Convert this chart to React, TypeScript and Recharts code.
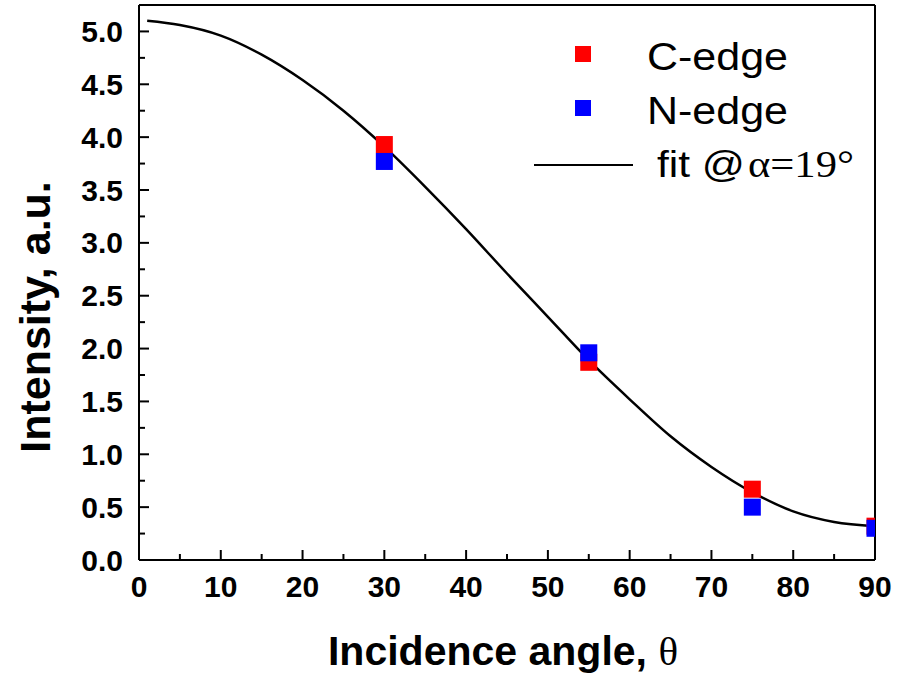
import {
  ComposedChart,
  Scatter,
  Line,
  XAxis,
  YAxis,
  ReferenceLine,
  Label,
} from "recharts";

// valores
const anglesMeas = [30, 55, 75, 90];
const cEdge = [3.93, 1.87, 0.67, 0.32];
const nEdge = [3.77, 1.96, 0.5, 0.3];

const fitAngle = [1, 5, 10, 15, 20, 25, 30, 35, 40, 45, 50, 55, 60, 65, 70, 75, 80, 85, 90];
const fitIntensity = [
  5.1, 5.06, 4.96, 4.78, 4.54, 4.25, 3.91, 3.53, 3.13, 2.71, 2.3, 1.89, 1.52, 1.17, 0.88,
  0.64, 0.46, 0.36, 0.32,
];

const xTicks = [0, 5, 10, 15, 20, 25, 30, 35, 40, 45, 50, 55, 60, 65, 70, 75, 80, 85, 90];
const yTicks = [
  0, 0.25, 0.5, 0.75, 1, 1.25, 1.5, 1.75, 2, 2.25, 2.5, 2.75, 3, 3.25, 3.5, 3.75, 4, 4.25, 4.5,
  4.75, 5,
];

const cData = anglesMeas.map((x, i) => ({ x, y: cEdge[i] }));
const nData = anglesMeas.map((x, i) => ({ x, y: nEdge[i] }));
const fitData = fitAngle.map((x, i) => ({ x, y: fitIntensity[i] }));

const SANS = '"Liberation Sans", Arial, sans-serif';
const SERIF = '"Liberation Serif", "Times New Roman", serif';
const PL = 139; // borda esquerda do plot
const PR = 875; // borda direita
const PB = 560; // borda inferior do plot
const SQ = 17;

// quadrado cortado na borda direita, como no original
const square = (color: string) => (p: any) => {
  const x0 = p.cx - SQ / 2;
  return <rect x={x0} y={p.cy - SQ / 2} width={Math.min(SQ, PR - x0)} height={SQ} fill={color} />;
};

function YTick({ y, payload }: any) {
  const v = payload.value as number;
  const major = Math.abs(v * 2 - Math.round(v * 2)) < 1e-6;
  return (
    <g>
      <line x1={PL} x2={PL + (major ? 10 : 6)} y1={y} y2={y} stroke="#000" strokeWidth={2} />
      {major && (
        <text
          x={123}
          y={y}
          textAnchor="end"
          dominantBaseline="central"
          fontFamily={SANS}
          fontWeight="bold"
          fontSize={30}
          fill="#000"
        >
          {v.toFixed(1)}
        </text>
      )}
    </g>
  );
}

function XTick({ x, payload }: any) {
  const v = payload.value as number;
  const major = v % 10 === 0;
  return (
    <g>
      <line x1={x} x2={x} y1={PB} y2={PB - (major ? 10 : 6)} stroke="#000" strokeWidth={2} />
      {major && (
        <text
          x={x}
          y={597}
          textAnchor="middle"
          fontFamily={SANS}
          fontWeight="bold"
          fontSize={30}
          fill="#000"
        >
          {v}
        </text>
      )}
    </g>
  );
}

// legenda desenhada por cima do gráfico
function LegendBox() {
  return (
    <svg width={391} height={180} style={{ position: "absolute", left: 520, top: 20 }}>
      <rect x={55} y={26} width={16} height={16} fill="#FF0000" />
      <text x={127} y={50} fontFamily={SANS} fontSize={38} fill="#000" textLength={141} lengthAdjust="spacingAndGlyphs">
        C-edge
      </text>
      <rect x={55} y={80} width={16} height={16} fill="#0000FF" />
      <text x={127} y={104} fontFamily={SANS} fontSize={38} fill="#000" textLength={141} lengthAdjust="spacingAndGlyphs">
        N-edge
      </text>
      <line x1={14} x2={113} y1={145} y2={145} stroke="#000" strokeWidth={2} />
      <text x={137} y={157} fontFamily={SANS} fontSize={36} fill="#000" textLength={88} lengthAdjust="spacingAndGlyphs">
        fit @
      </text>
      <text x={228} y={157} fontFamily={SERIF} fontSize={37} fill="#000" textLength={106} lengthAdjust="spacingAndGlyphs">
        α=19°
      </text>
    </svg>
  );
}

export default function App() {
  return (
    <div style={{ position: "absolute", left: 0, top: 0, width: 911, height: 676, background: "#fff" }}>
      <ComposedChart width={911} height={676} margin={{ top: 5, right: 36, bottom: 0, left: 0 }}>
        <XAxis
          type="number"
          dataKey="x"
          domain={[0, 90]}
          ticks={xTicks}
          interval={0}
          height={116}
          axisLine={{ stroke: "#000", strokeWidth: 2 }}
          tickLine={false}
          tick={<XTick />}
        >
          <Label
            content={() => (
              <text x={503} y={665} textAnchor="middle" fontFamily={SANS} fontWeight="bold" fontSize={41} fill="#000">
                Incidence angle,{" "}
                <tspan fontFamily={SERIF} fontWeight="normal">
                  θ
                </tspan>
              </text>
            )}
          />
        </XAxis>
        <YAxis
          type="number"
          domain={[0, 5.25]}
          ticks={yTicks}
          interval={0}
          width={139}
          axisLine={{ stroke: "#000", strokeWidth: 2 }}
          tickLine={false}
          tick={<YTick />}
        >
          <Label
            content={() => (
              <text
                x={50}
                y={317}
                transform="rotate(-90 50 317)"
                textAnchor="middle"
                fontFamily={SANS}
                fontWeight="bold"
                fontSize={43}
                fill="#000"
              >
                Intensity, a.u.
              </text>
            )}
          />
        </YAxis>
        <Line
          data={fitData}
          dataKey="y"
          type="monotone"
          stroke="#000"
          strokeWidth={2.5}
          dot={false}
          isAnimationActive={false}
        />
        <Scatter data={cData} dataKey="y" shape={square("#FF0000")} isAnimationActive={false} />
        <Scatter data={nData} dataKey="y" shape={square("#0000FF")} isAnimationActive={false} />
        <ReferenceLine y={5.25} stroke="#000" strokeWidth={2} />
        <ReferenceLine x={90} stroke="#000" strokeWidth={2} />
      </ComposedChart>
      <LegendBox />
    </div>
  );
}
